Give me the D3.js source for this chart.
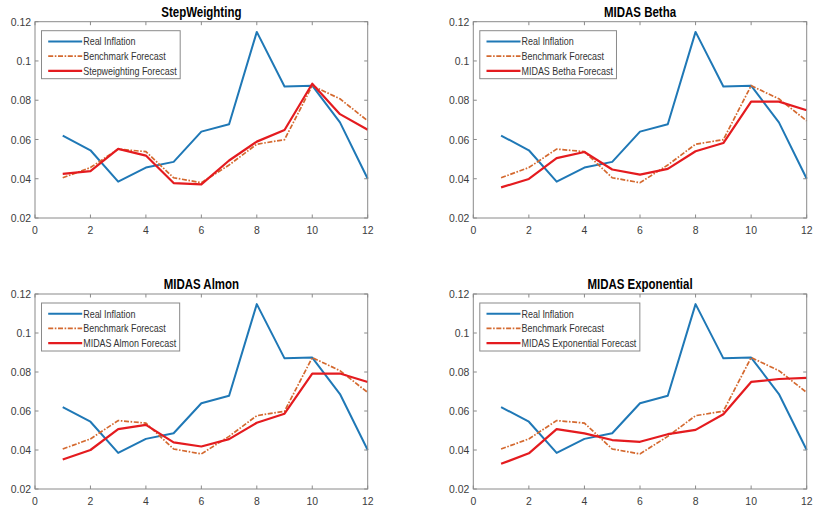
<!DOCTYPE html>
<html>
<head>
<meta charset="utf-8">
<script src="https://cdn.jsdelivr.net/npm/d3@7/dist/d3.min.js"></script>
<style>
  html, body { margin: 0; padding: 0; background: #fff; }
  svg { display: block; }
  text { font-family: "Liberation Sans", Arial, Helvetica, sans-serif; }
</style>
</head>
<body>
<svg id="chart" width="814" height="512"></svg>
<script>
// ---- data ----
const months = [1, 2, 3, 4, 5, 6, 7, 8, 9, 10, 11, 12];
const realInflation = [0.0620, 0.0545, 0.0385, 0.0457, 0.0486, 0.0640, 0.0678, 0.1148, 0.0870, 0.0874, 0.0687, 0.0400];
const benchmarkForecast = [0.0405, 0.0457, 0.0551, 0.0538, 0.0405, 0.0380, 0.0470, 0.0576, 0.0599, 0.0874, 0.0807, 0.0695];
const stepweightingForecast = [0.0425, 0.0439, 0.0552, 0.0518, 0.0378, 0.0371, 0.0493, 0.0589, 0.0648, 0.0884, 0.0729, 0.0650];
const bethaForecast = [0.0356, 0.0399, 0.0505, 0.0536, 0.0447, 0.0421, 0.0450, 0.0540, 0.0582, 0.0793, 0.0793, 0.0749];
const almonForecast = [0.0351, 0.0400, 0.0507, 0.0529, 0.0439, 0.0418, 0.0456, 0.0540, 0.0586, 0.0792, 0.0792, 0.0749];
const exponentialForecast = [0.0329, 0.0383, 0.0507, 0.0485, 0.0451, 0.0442, 0.0481, 0.0503, 0.0583, 0.0749, 0.0764, 0.0770];

const panelTitles = ["StepWeighting", "MIDAS Betha", "MIDAS Almon", "MIDAS Exponential"];
const forecastLabels = ["Stepweighting Forecast", "MIDAS Betha Forecast", "MIDAS Almon Forecast", "MIDAS Exponential Forecast"];
const forecastSeries = [stepweightingForecast, bethaForecast, almonForecast, exponentialForecast];
const realLabel = "Real Inflation";
const benchmarkLabel = "Benchmark Forecast";

const xTicks = [0, 2, 4, 6, 8, 10, 12];
const yTicks = [0.02, 0.04, 0.06, 0.08, 0.1, 0.12];
const yTickLabels = ["0.02", "0.04", "0.06", "0.08", "0.1", "0.12"];
const xDomain = [0, 12];
const yDomain = [0.02, 0.12];

// ---- layout ----
const panels = [
  { left: 35,    top: 21.7, right: 367.7, bottom: 218 },
  { left: 473.3, top: 21.7, right: 806.7, bottom: 218 },
  { left: 35,    top: 294,  right: 367.7, bottom: 489 },
  { left: 473.3, top: 294,  right: 806.7, bottom: 489 }
];

const colors = { real: "#1f78b6", bench: "#d4692f", fc: "#e41b1f", axis: "#8a8a8a", tick: "#3c3c3c" };

const svg = d3.select("#chart");

function squeezedText(g, x, y, str, opts) {
  const t = g.append("text")
    .attr("transform", `translate(${x},${y}) scale(${opts.sx},1)`)
    .attr("x", 0).attr("y", 0)
    .attr("font-size", opts.size)
    .attr("fill", opts.fill)
    .attr("text-anchor", opts.anchor || "start")
    .text(str);
  if (opts.weight) t.attr("font-weight", opts.weight);
  if (opts.baseline) t.attr("dominant-baseline", opts.baseline);
  return t;
}

panels.forEach((p, i) => {
  const g = svg.append("g");
  const x = d3.scaleLinear().domain(xDomain).range([p.left, p.right]);
  const y = d3.scaleLinear().domain(yDomain).range([p.bottom, p.top]);

  // lines
  const line = d3.line().x((d, k) => x(months[k])).y(d => y(d));
  g.append("path").datum(realInflation).attr("d", line)
    .attr("fill", "none").attr("stroke", colors.real).attr("stroke-width", 2).attr("stroke-linejoin", "round");
  g.append("path").datum(benchmarkForecast).attr("d", line)
    .attr("fill", "none").attr("stroke", colors.bench).attr("stroke-width", 1.7)
    .attr("stroke-dasharray", "5,1.6,1.6,1.6");
  g.append("path").datum(forecastSeries[i]).attr("d", line)
    .attr("fill", "none").attr("stroke", colors.fc).attr("stroke-width", 2.2).attr("stroke-linejoin", "round");

  // box
  g.append("rect").attr("x", p.left).attr("y", p.top)
    .attr("width", p.right - p.left).attr("height", p.bottom - p.top)
    .attr("fill", "none").attr("stroke", colors.axis).attr("stroke-width", 1);

  // ticks (inward, bottom/top and left/right)
  const tl = 3.5;
  xTicks.forEach(v => {
    g.append("line").attr("x1", x(v)).attr("x2", x(v)).attr("y1", p.bottom).attr("y2", p.bottom - tl)
      .attr("stroke", colors.axis);
    g.append("line").attr("x1", x(v)).attr("x2", x(v)).attr("y1", p.top).attr("y2", p.top + tl)
      .attr("stroke", colors.axis);
    squeezedText(g, x(v), p.bottom + 16, String(v), { size: 11.6, sx: 0.9, fill: colors.tick, anchor: "middle" });
  });
  yTicks.forEach((v, k) => {
    g.append("line").attr("x1", p.left).attr("x2", p.left + tl).attr("y1", y(v)).attr("y2", y(v))
      .attr("stroke", colors.axis);
    g.append("line").attr("x1", p.right).attr("x2", p.right - tl).attr("y1", y(v)).attr("y2", y(v))
      .attr("stroke", colors.axis);
    squeezedText(g, p.left - 4, y(v) + 4.2, yTickLabels[k], { size: 11.6, sx: 0.9, fill: colors.tick, anchor: "end" });
  });

  // title
  squeezedText(g, (p.left + p.right) / 2, p.top - 5, panelTitles[i],
    { size: 14, sx: 0.82, fill: "#000", anchor: "middle", weight: "bold" });

  // legend
  const lx = p.left + 6.5, ly = p.top + 9;
  const entries = [
    { label: realLabel, color: colors.real, w: 2, dash: null },
    { label: benchmarkLabel, color: colors.bench, w: 1.7, dash: "5,1.6,1.6,1.6" },
    { label: forecastLabels[i], color: colors.fc, w: 2.2, dash: null }
  ];
  const lg = g.append("g");
  const box = lg.append("rect").attr("x", lx).attr("y", ly).attr("height", 48)
    .attr("fill", "#fff").attr("stroke", "#8a8a8a").attr("stroke-width", 1);
  let maxW = 0;
  entries.forEach((e, k) => {
    const cy = ly + 10.7 + k * 14.7;
    const ln = lg.append("line").attr("x1", lx + 6.7).attr("x2", lx + 40.7).attr("y1", cy).attr("y2", cy)
      .attr("stroke", e.color).attr("stroke-width", e.w);
    if (e.dash) ln.attr("stroke-dasharray", e.dash);
    const t = squeezedText(lg, lx + 41.7, cy + 4, e.label, { size: 11.2, sx: 0.8, fill: "#333" });
    maxW = Math.max(maxW, t.node().getComputedTextLength() * 0.8);
  });
  box.attr("width", 41.7 + maxW + 3.5);
});
</script>
</body>
</html>
